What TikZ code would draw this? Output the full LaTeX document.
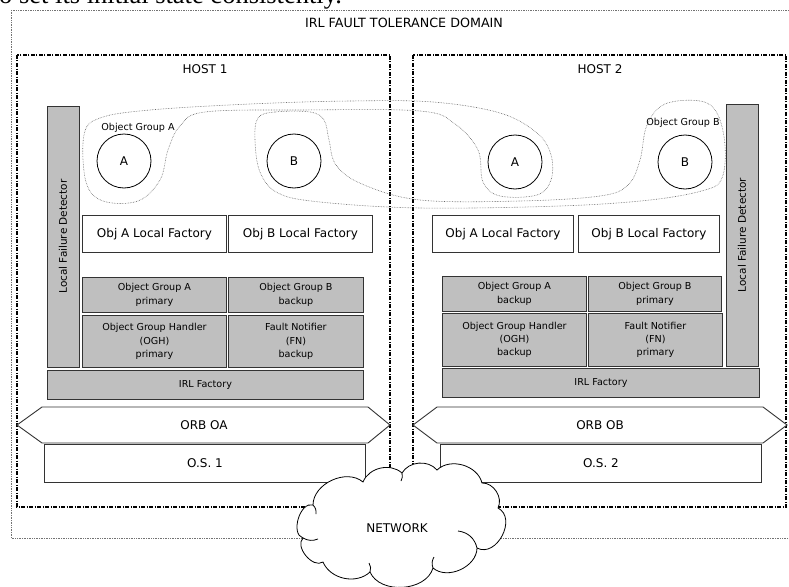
\documentclass[tikz,border=0pt]{standalone}
\usepackage{fontspec}
\setmainfont{DejaVu Sans}
\newfontfamily\fragfont{Liberation Serif}
\begin{document}
\begin{tikzpicture}[x=1pt,y=-1pt,
  every node/.style={font=\fontsize{12}{14}\selectfont, inner sep=0pt},
  graybox/.style={draw=black!80, fill=gray!50, line width=0.9pt, anchor=north west, align=center, font=\fontsize{9.6}{13.3}\selectfont},
  whitebox/.style={draw=black!80, fill=white, line width=0.9pt, anchor=north west},
  hostbox/.style={draw=black, line width=1.1pt, dash pattern=on 4pt off 1.5pt on 1pt off 1.5pt},
  domainbox/.style={draw=black!55, line width=0.7pt, densely dotted},
  grouploop/.style={draw=black!60, line width=0.6pt, densely dotted},
  objcircle/.style={circle, draw=black, line width=0.8pt, minimum size=54pt},
  orbshape/.style={draw=black!80, fill=white, line width=0.9pt},
  cloudline/.style={draw=black, line width=0.8pt},
  smalllabel/.style={font=\fontsize{9.6}{12}\selectfont}
]
\useasboundingbox (0,0) rectangle (789,586);

% cropped text line from the page above
\node[anchor=base west, font=\fragfont\fontsize{26.5}{30}\selectfont] (frag) at (-1,3.5) {o set its initial state consistently.};

% domain
\draw[domainbox] (11,10) rectangle (800,538);
\node[font=\fontsize{12.7}{14}\selectfont] (domlabel) at (404,23) {IRL FAULT TOLERANCE DOMAIN};

% hosts
\draw[hostbox] (17,55) rectangle (390,507);
\draw[hostbox] (413,55) rectangle (786,507);
\node (h1) at (205,69) {HOST 1};
\node (h2) at (600,69) {HOST 2};

% object group loops
\draw[grouploop] plot[smooth cycle, tension=0.6] coordinates {
 (84,135) (100,118) (150,110) (250,104) (350,101) (433,102) (500,113) (537,133) (551,155)
 (551,180) (537,195) (500,196) (483,182) (478,150) (455,124) (420,111) (300,110) (205,112)
 (180,126) (168,150) (160,180) (138,201) (103,201) (86,182)};
\draw[grouploop] plot[smooth cycle, tension=0.6] coordinates {
 (258,118) (275,112) (310,112) (324,120) (329,140) (336,165) (362,184) (420,200) (520,201)
 (600,196) (628,185) (640,160) (647,125) (665,104) (700,101) (717,113) (725,145) (722,178)
 (705,190) (650,200) (560,206) (420,208) (320,202) (278,193) (260,172) (255,140)};

% objects
\node[objcircle] (a1) at (124,161) {A};
\node[objcircle] (b1) at (294,161) {B};
\node[objcircle] (a2) at (515,162) {A};
\node[objcircle] (b2) at (685,162) {B};
\node[smalllabel] (lga) at (138,128) {Object Group A};
\node[smalllabel] (lgb) at (683,123) {Object Group B};

% local factories
\node[whitebox, minimum width=144pt, minimum height=37pt] (alf1) at (82,215) {Obj A Local Factory};
\node[whitebox, minimum width=144pt, minimum height=37pt] (blf1) at (228,215) {Obj B Local Factory};
\node[whitebox, minimum width=141pt, minimum height=37pt] (alf2) at (432,215) {Obj A Local Factory};
\node[whitebox, minimum width=141pt, minimum height=37pt] (blf2) at (578,215) {Obj B Local Factory};

% host 1 gray components
\node[graybox, anchor=center, rotate=90, minimum width=261pt, minimum height=32pt, font=\fontsize{10.5}{12}\selectfont] (lfd1) at (63,236.5) {Local Failure Detector};
\node[graybox, minimum width=144pt, minimum height=35pt] (oga1) at (82,277) {Object Group A\\primary};
\node[graybox, minimum width=135pt, minimum height=35pt] (ogb1) at (228,277) {Object Group B\\backup};
\node[graybox, minimum width=144pt, minimum height=52pt] (ogh1) at (82,315) {Object Group Handler\\(OGH)\\primary};
\node[graybox, minimum width=135pt, minimum height=52pt] (fn1) at (228,315) {Fault Notifier\\(FN)\\backup};
\node[graybox, minimum width=316pt, minimum height=29pt] (irl1) at (47,370) {IRL Factory};

% host 2 gray components
\node[graybox, anchor=center, rotate=90, minimum width=262pt, minimum height=32pt, font=\fontsize{10.5}{12}\selectfont] (lfd2) at (742,235) {Local Failure Detector};
\node[graybox, minimum width=144pt, minimum height=35pt] (oga2) at (442,276) {Object Group A\\backup};
\node[graybox, minimum width=133pt, minimum height=35pt] (ogb2) at (588,276) {Object Group B\\primary};
\node[graybox, minimum width=144pt, minimum height=53pt] (ogh2) at (442,313) {Object Group Handler\\(OGH)\\backup};
\node[graybox, minimum width=134pt, minimum height=53pt] (fn2) at (588,313) {Fault Notifier\\(FN)\\primary};
\node[graybox, minimum width=317pt, minimum height=29pt] (irl2) at (442,368) {IRL Factory};

% ORBs
\draw[orbshape] (17,425) -- (42,407) -- (368,407) -- (390,425) -- (368,443) -- (42,443) -- cycle;
\node (orba) at (204,425) {ORB OA};
\draw[orbshape] (413,425) -- (437,407) -- (763,407) -- (787,425) -- (763,443) -- (437,443) -- cycle;
\node (orbb) at (600,425) {ORB OB};

% operating systems
\node[whitebox, minimum width=321pt, minimum height=38pt] (os1) at (44,444) {O.S. 1};
\node[whitebox, minimum width=321pt, minimum height=38pt] (os2) at (440,444) {O.S. 2};

% network cloud
\draw[cloudline, fill=white]
  (313,505) to[bend left=65] (363,482) to[bend left=55] (402,473) to[bend left=55] (437,470)
  to[bend left=60] (482,483) to[bend left=60] (498,508) to[bend left=90, looseness=1.25] (477,548)
  to[bend left=65] (433,568) to[bend left=70] (370,572) to[bend left=55] (323,562)
  to[bend left=85] (303,538) to[bend left=90] (313,505) -- cycle;
\draw[cloudline] (313,505) to[bend left=25] (316,514);
\draw[cloudline] (402,473) to[bend left=20] (401,481);
\draw[cloudline] (477,548) to[bend right=35] (458,531);
\draw[cloudline] (433,568) to[bend left=25] (434,557);
\draw[cloudline] (370,572) to[bend right=25] (369,563);
\draw[cloudline] (303,538) to[bend right=25] (318,539);
\node (net) at (397,528) {NETWORK};
\end{tikzpicture}
\end{document}
